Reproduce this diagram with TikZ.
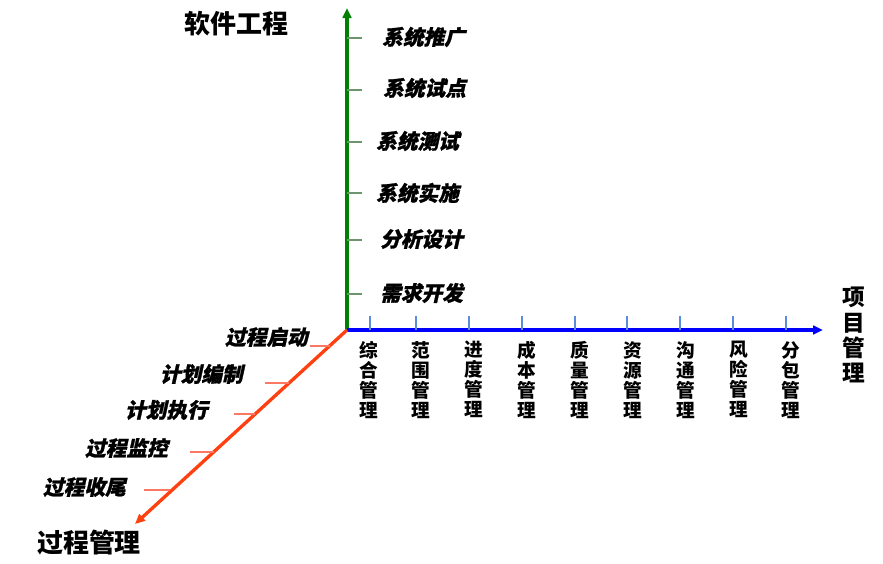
\documentclass[tikz,border=0pt]{standalone}
\usepackage{fontspec}
\newfontfamily\cjk{Noto Sans CJK SC}
\newfontfamily\cjkit{Noto Sans CJK SC}[FakeSlant=0.22,FakeBold=1.2]
\usepackage{tikz}
\usetikzlibrary{arrows.meta,positioning}
\usepackage{xcolor}
\definecolor{axisgreen}{RGB}{0,128,0}
\definecolor{axisblue}{RGB}{0,0,255}
\definecolor{axisred}{RGB}{255,64,16}
\definecolor{tickgreen}{RGB}{110,150,110}
\definecolor{tickblue}{RGB}{90,140,220}
\definecolor{tickred}{RGB}{250,120,100}

\begin{document}
\begin{tikzpicture}[
    x=0.75pt, y=-0.75pt,
    axis/.style={line width=2.5pt, -{Triangle[length=7.5pt, width=6.5pt]}},
    tick/.style={line width=0.8pt},
    phase/.style={font=\cjkit\bfseries\fontsize{15.5}{18}\selectfont, inner sep=0pt},
    area/.style={font=\cjk\bfseries\fontsize{14}{15}\selectfont, align=center, inner sep=0pt, anchor=north},
    title/.style={font=\cjk\bfseries\fontsize{19.5}{22}\selectfont, inner sep=0pt}
]
\useasboundingbox (0,0) rectangle (883,564);

% === AXES ===
\coordinate (o) at (347,330);
\coordinate (top) at (347,8);
\coordinate (right) at (823,330);
\coordinate (low) at (135,524);

\draw[axis, axisgreen] (o) -- (top);
\draw[axis, axisblue] (o) -- (right);
\draw[axis, axisred] (o) -- (low);

\node[title] (swe) at (236,24) {软件工程};
\node[title, font=\cjk\bfseries\fontsize{17}{18.8}\selectfont, align=center] (pm) at (854,335) {项\\目\\管\\理};
\node[title] (proc) at (89,543) {过程管理};

% === SOFTWARE ENGINEERING PHASES (vertical) ===
\node[phase, anchor=west] (p1) at (382,37) {系统推广};
\node[phase, anchor=west] (p2) at (383,88) {系统试点};
\node[phase, anchor=west] (p3) at (376,141) {系统测试};
\node[phase, anchor=west] (p4) at (376,193) {系统实施};
\node[phase, anchor=west] (p5) at (380,239) {分析设计};
\node[phase, anchor=west] (p6) at (380,293) {需求开发};

\draw[tick, tickgreen] (347,38) -- (362,38);
\draw[tick, tickgreen] (347,90) -- (362,90);
\draw[tick, tickgreen] (347,142) -- (362,142);
\draw[tick, tickgreen] (347,193) -- (362,193);
\draw[tick, tickgreen] (347,240) -- (362,240);
\draw[tick, tickgreen] (347,294) -- (362,294);

% === KNOWLEDGE AREAS (horizontal) ===
\node[area] (a1) at (369,341) {综\\合\\管\\理};
\node[area] (a2) at (421,341) {范\\围\\管\\理};
\node[area] (a3) at (474,341) {进\\度\\管\\理};
\node[area] (a4) at (527,341) {成\\本\\管\\理};
\node[area] (a5) at (580,341) {质\\量\\管\\理};
\node[area] (a6) at (633,341) {资\\源\\管\\理};
\node[area] (a7) at (686,341) {沟\\通\\管\\理};
\node[area] (a8) at (739,341) {风\\险\\管\\理};
\node[area] (a9) at (791,341) {分\\包\\管\\理};

\draw[tick, tickblue] (370,316) -- (370,330);
\draw[tick, tickblue] (416,316) -- (416,330);
\draw[tick, tickblue] (469,316) -- (469,330);
\draw[tick, tickblue] (522,316) -- (522,330);
\draw[tick, tickblue] (575,316) -- (575,330);
\draw[tick, tickblue] (627,316) -- (627,330);
\draw[tick, tickblue] (680,316) -- (680,330);
\draw[tick, tickblue] (733,316) -- (733,330);
\draw[tick, tickblue] (786,316) -- (786,330);

% === PROCESS GROUPS (diagonal) ===
\node[phase, anchor=east] (g1) at (308,337) {过程启动};
\node[phase, anchor=east] (g2) at (243,374) {计划编制};
\node[phase, anchor=east] (g3) at (208,410) {计划执行};
\node[phase, anchor=east] (g4) at (168,448) {过程监控};
\node[phase, anchor=east] (g5) at (126,487) {过程收尾};

\draw[tick, tickred] (310,346) -- (330,346);
\draw[tick, tickred] (265,383) -- (289,383);
\draw[tick, tickred] (234,414) -- (255,414);
\draw[tick, tickred] (190,452) -- (214,452);
\draw[tick, tickred] (144,490) -- (170,490);

\end{tikzpicture}
\end{document}
